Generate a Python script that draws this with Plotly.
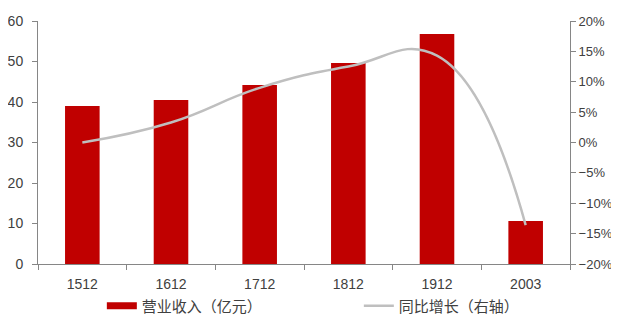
import plotly.graph_objects as go

categories = ["1512", "1612", "1712", "1812", "1912", "2003"]
revenue = [39.0, 40.5, 44.2, 49.6, 56.8, 10.6]
growth = [0.0, 3.3, 9.0, 12.5, 14.3, -13.6]

bar_name = "营业收入（亿元）"
line_name = "同比增长（右轴）"
bar_color = "#C00000"
line_color = "#BFBFBF"
font_family = "'Liberation Sans', Arial, sans-serif"
cjk_family = "'Noto Sans CJK SC', sans-serif"
text_color = "#404040"

fig = go.Figure()
fig.add_trace(go.Bar(x=categories, y=revenue, marker=dict(color=bar_color, line=dict(width=0)),
                     name=bar_name, showlegend=False, yaxis="y"))
# legend proxy for the bar series (wide red rectangle)
fig.add_trace(go.Scatter(x=[None], y=[None], mode="lines", name=bar_name,
                         line=dict(color=bar_color, width=7), yaxis="y"))
fig.add_trace(go.Scatter(x=categories, y=growth, mode="lines", name=line_name,
                         line=dict(color=line_color, width=2.5, shape="spline", smoothing=1.3),
                         yaxis="y2"))

axis_common = dict(showgrid=False, zeroline=False, showline=True, linecolor="#868686",
                   linewidth=1, ticks="outside", ticklen=5, tickcolor="#868686")
tick_font = dict(size=14, color=text_color, family=font_family)

# page body has an 8px margin, so the figure is sized to fit inside the window
fig.update_layout(
    width=611, height=308,
    margin=dict(l=30, r=49, t=13, b=52, autoexpand=False),
    paper_bgcolor="white", plot_bgcolor="white",
    bargap=0.61,
    font=dict(family=font_family, color=text_color, size=14),
    xaxis=dict(type="category", tickson="boundaries", ticklabelstandoff=7,
               tickfont=tick_font, **axis_common),
    yaxis=dict(range=[0, 60], dtick=10, ticklabelstandoff=6, tickfont=tick_font,
               **axis_common),
    yaxis2=dict(range=[-20, 20], dtick=5, ticksuffix="%", overlaying="y", side="right",
                ticklabelstandoff=0, tickfont=dict(size=13, color=text_color, family=font_family),
                **axis_common),
    legend=dict(orientation="h", x=0.12, xanchor="left", y=-0.173, yanchor="middle",
                itemwidth=30, entrywidth=212, font=dict(size=15, color=text_color,
                family=cjk_family), bgcolor="rgba(0,0,0,0)"),
)

fig.write_html("out.html")
